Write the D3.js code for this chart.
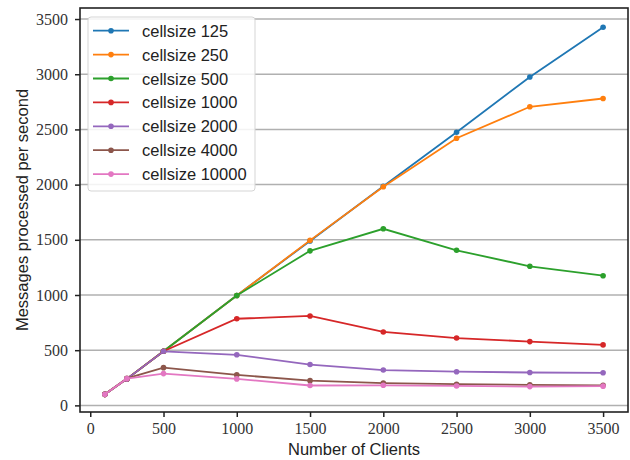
<!DOCTYPE html>
<html>
<head>
<meta charset="utf-8">
<style>
    body { margin: 0; background: white; }
    svg { display: block; }
    .tick text { font-family: 'Liberation Serif', 'Times New Roman', serif; font-size: 16px; fill: #333; }
    .label { font-family: 'Liberation Sans', Arial, sans-serif; font-size: 16.5px; fill: #222; }
    .legend text { font-family: 'Liberation Sans', Arial, sans-serif; font-size: 16.5px; fill: #222; }
</style>
</head>
<body>
<svg width="630" height="460"></svg>

<script src="https://d3js.org/d3.v7.min.js"></script>
<script>

    // number of clients on the x axis
    let clients = [100, 250, 500, 1000, 1500, 2000, 2500, 3000, 3500]

    let cellsizes = ["cellsize 125", "cellsize 250", "cellsize 500", "cellsize 1000",
                     "cellsize 2000", "cellsize 4000", "cellsize 10000"]

    let cs125   = [100, 240, 490, 995, 1490, 1985, 2475, 2975, 3425]
    let cs250   = [100, 240, 490, 995, 1495, 1980, 2420, 2705, 2780]
    let cs500   = [100, 240, 490, 995, 1400, 1600, 1405, 1260, 1175]
    let cs1000  = [100, 240, 490, 785, 810, 665, 610, 578, 548]
    let cs2000  = [100, 240, 490, 458, 370, 320, 305, 298, 295]
    let cs4000  = [100, 245, 342, 276, 224, 202, 192, 186, 182]
    let cs10000 = [100, 242, 288, 240, 180, 182, 176, 170, 174]

    let xTicks = [0, 500, 1000, 1500, 2000, 2500, 3000, 3500]
    let yTicks = [0, 500, 1000, 1500, 2000, 2500, 3000, 3500]

    let colors = ["#1f77b4", "#ff7f0e", "#2ca02c", "#d62728", "#9467bd", "#8c564b", "#e377c2"]

    let allSeries = [cs125, cs250, cs500, cs1000, cs2000, cs4000, cs10000]

    let plotLeft = 80, plotRight = 628, plotTop = 8, plotBottom = 412

    let svg = d3.select("svg")

    let x = d3.scaleLinear().domain([-70, 3670]).range([plotLeft, plotRight])
    let y = d3.scaleLinear().domain([-60, 3600]).range([plotBottom, plotTop])

    // horizontal grid
    svg.append("g")
        .selectAll("line")
        .data(yTicks)
        .join("line")
        .attr("x1", plotLeft)
        .attr("x2", plotRight)
        .attr("y1", d => y(d))
        .attr("y2", d => y(d))
        .style("stroke", "#b0b0b0")
        .style("stroke-width", 1.5)

    // axes
    svg.append("g")
        .attr("transform", `translate(0,${plotBottom})`)
        .call(d3.axisBottom(x).tickValues(xTicks).tickSize(5).tickPadding(6).tickFormat(d3.format("d")))

    svg.append("g")
        .attr("transform", `translate(${plotLeft},0)`)
        .call(d3.axisLeft(y).tickValues(yTicks).tickSize(5).tickPadding(7).tickFormat(d3.format("d")))

    svg.selectAll(".domain").remove()
    svg.selectAll(".tick line").style("stroke", "#222").style("stroke-width", 1.5)

    // lines
    let line = d3.line()
        .x((d, i) => x(clients[i]))
        .y(d => y(d))

    allSeries.forEach((s, k) => {
        let g = svg.append("g")
        g.append("path")
            .attr("d", line(s))
            .style("fill", "none")
            .style("stroke", colors[k])
            .style("stroke-width", 1.8)
        g.selectAll("circle")
            .data(s)
            .join("circle")
            .attr("cx", (d, i) => x(clients[i]))
            .attr("cy", d => y(d))
            .attr("r", 2.8)
            .style("fill", colors[k])
    })

    // frame
    svg.append("rect")
        .attr("x", plotLeft)
        .attr("y", plotTop)
        .attr("width", plotRight - plotLeft)
        .attr("height", plotBottom - plotTop)
        .style("fill", "none")
        .style("stroke", "#222")
        .style("stroke-width", 1.6)

    // axis labels
    svg.append("text")
        .attr("class", "label")
        .attr("x", (plotLeft + plotRight) / 2)
        .attr("y", 455)
        .attr("text-anchor", "middle")
        .text("Number of Clients")

    svg.append("text")
        .attr("class", "label")
        .attr("transform", `translate(28,${(plotTop + plotBottom) / 2}) rotate(-90)`)
        .attr("text-anchor", "middle")
        .text("Messages processed per second")

    // legend
    let legend = svg.append("g").attr("class", "legend")

    legend.append("rect")
        .attr("x", 88)
        .attr("y", 17)
        .attr("width", 167)
        .attr("height", 174)
        .attr("rx", 3)
        .style("fill", "white")
        .style("fill-opacity", 0.85)
        .style("stroke", "#d5d5d5")
        .style("stroke-width", 1)

    let rows = legend.selectAll(".row")
        .data(cellsizes)
        .join("g")
        .attr("class", "row")
        .attr("transform", (d, i) => `translate(0,${30.7 + i * 23.9})`)

    rows.append("line")
        .attr("x1", 93)
        .attr("x2", 129)
        .style("stroke", (d, i) => colors[i])
        .style("stroke-width", 1.8)

    rows.append("circle")
        .attr("cx", 111)
        .attr("r", 2.8)
        .style("fill", (d, i) => colors[i])

    rows.append("text")
        .attr("x", 142)
        .attr("y", 6)
        .text(d => d)

</script>
</body>
</html>
